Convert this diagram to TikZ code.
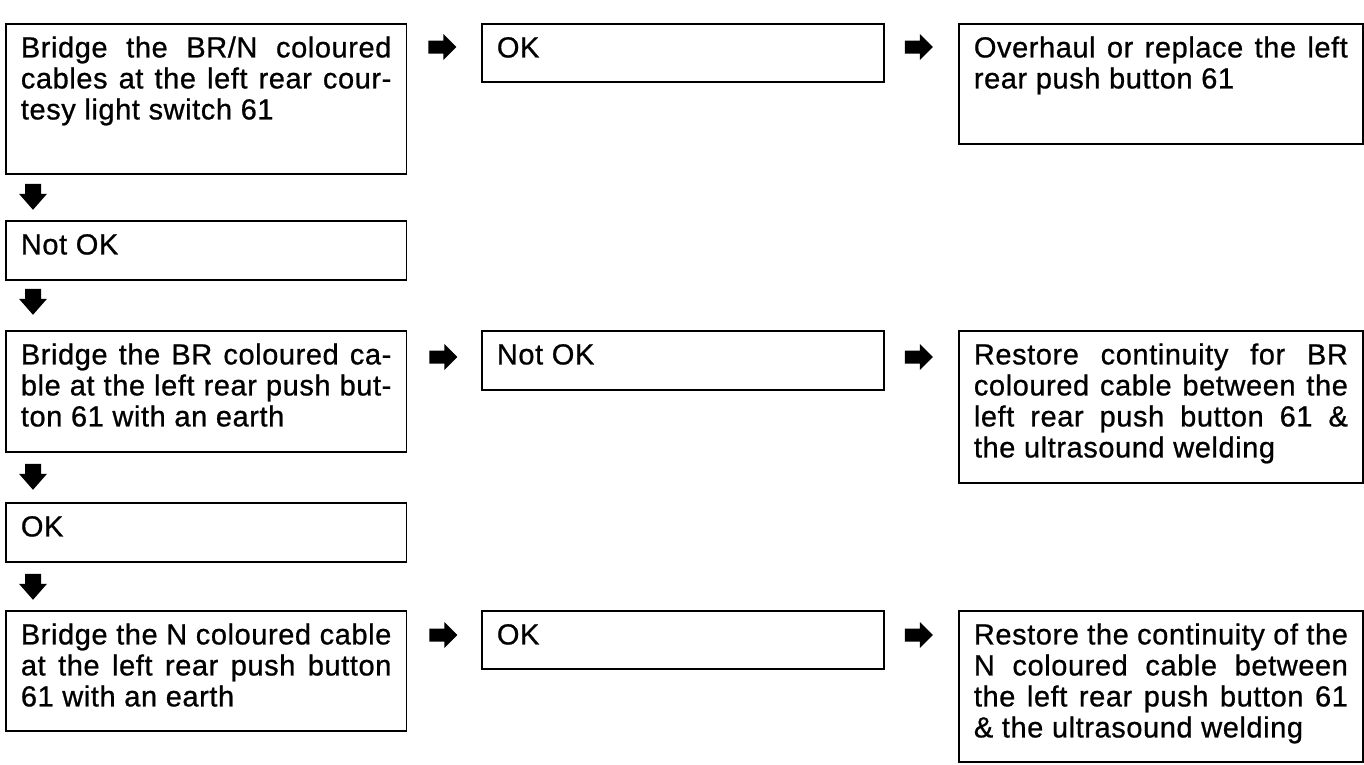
\documentclass[tikz,border=0pt]{standalone}
\usepackage{fontspec}
\setmainfont{Liberation Sans}[LetterSpace=2,FakeBold=0.8]
\usetikzlibrary{calc}
\newcommand{\jl}[1]{\makebox[\linewidth][s]{#1}}
\newcommand{\btx}[3]{\parbox[t][#2][t]{#1}{\fontsize{29pt}{31pt}\selectfont\rule{0pt}{33.5pt}#3}}
\tikzset{
  fbox/.style={draw=black, line width=1.8pt, inner ysep=0pt, inner xsep=15pt, anchor=north west},
  rarr/.pic={\fill[black] (-14,-6.5) -- (1,-6.5) -- (1,-13) -- (14,0) -- (1,13) -- (1,6.5) -- (-14,6.5) -- cycle;},
  darr/.pic={\fill[black] (-8,-13) -- (8,-13) -- (8,-3) -- (14,-3) -- (0,13) -- (-14,-3) -- (-8,-3) -- cycle;}
}
\begin{document}
\begin{tikzpicture}[x=1pt,y=-1pt]
\useasboundingbox (0,0) rectangle (1364,764);
% left column
\node[fbox] (A) at (5,23) {\btx{370.5pt}{150pt}{\jl{Bridge the BR/N coloured}\\
\jl{cables at the left rear cour-}\\
tesy light switch 61}};
\node[fbox] (N1) at (5,220) {\btx{370.5pt}{59pt}{Not OK}};
\node[fbox] (D) at (5,330) {\btx{370.5pt}{121pt}{\jl{Bridge the BR coloured ca-}\\
\jl{ble at the left rear push but-}\\
ton 61 with an earth}};
\node[fbox] (O2) at (5,502) {\btx{370.5pt}{59pt}{OK}};
\node[fbox] (F) at (5,610) {\btx{370.5pt}{120pt}{\jl{Bridge the N coloured cable}\\
\jl{at the left rear push button}\\
61 with an earth}};
% middle column
\node[fbox] (B1) at (481,23) {\btx{372pt}{58pt}{OK}};
\node[fbox] (B2) at (481,330) {\btx{372pt}{59pt}{Not OK}};
\node[fbox] (B3) at (481,610) {\btx{372pt}{58pt}{OK}};
% right column
\node[fbox] (C) at (958,23) {\btx{374pt}{120pt}{\jl{Overhaul or replace the left}\\
rear push button 61}};
\node[fbox] (E) at (958,330) {\btx{374pt}{152pt}{\jl{Restore continuity for BR}\\
\jl{coloured cable between the}\\
\jl{left rear push button 61 \&}\\
the ultrasound welding}};
\node[fbox] (G) at (958,610) {\btx{374pt}{151pt}{\jl{Restore the continuity of the}\\
\jl{N coloured cable between}\\
\jl{the left rear push button 61}\\
\& the ultrasound welding}};
% right arrows
\pic at ($(A.north east)+(35,24)$) {rarr};
\pic at ($(B1.north east)+(34,24)$) {rarr};
\pic at ($(D.north east)+(36,27)$) {rarr};
\pic at ($(B2.north east)+(34,27)$) {rarr};
\pic at ($(F.north east)+(36,25)$) {rarr};
\pic at ($(B3.north east)+(34,25)$) {rarr};
% down arrows
\pic at ($(A.south west)+(28,22)$) {darr};
\pic at ($(N1.south west)+(28,21)$) {darr};
\pic at ($(D.south west)+(28,24)$) {darr};
\pic at ($(O2.south west)+(28,24)$) {darr};
\end{tikzpicture}
\end{document}
